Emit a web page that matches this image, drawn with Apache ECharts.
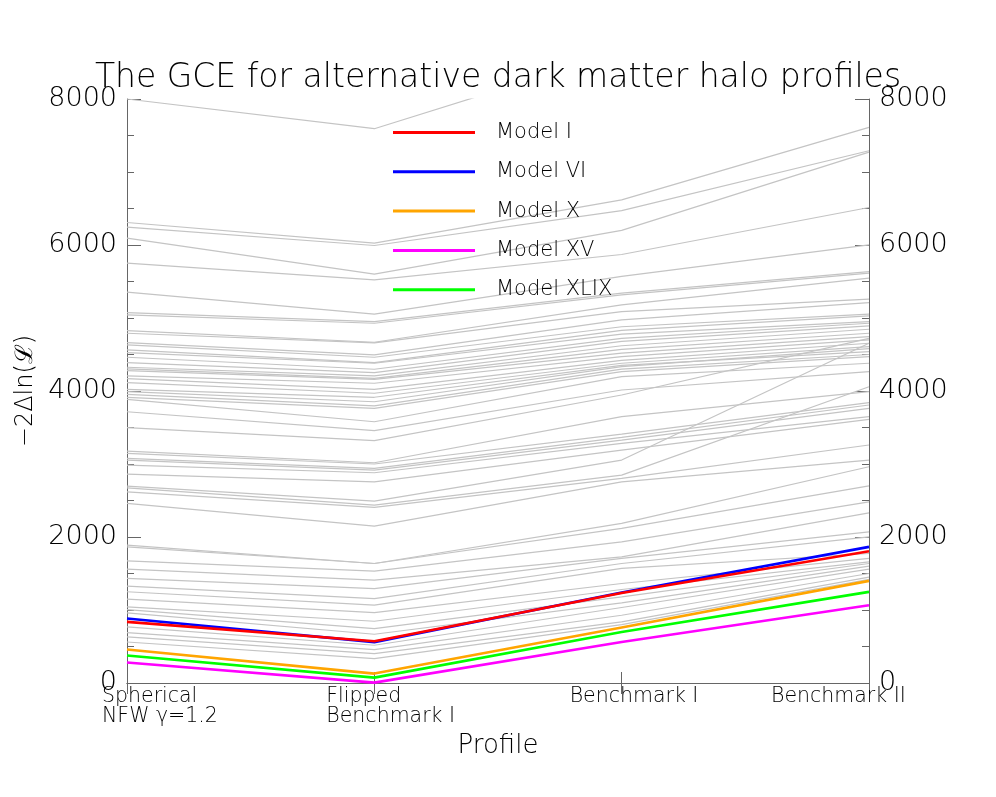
<!DOCTYPE html>
<html>
<head>
<meta charset="utf-8">
<script src="https://cdn.jsdelivr.net/npm/echarts@6/dist/echarts.min.js"></script>
<style>
    html, body { margin: 0; padding: 0; background: #fff; }
    #chart { width: 996px; height: 797px; }
</style>
</head>
<body>
<div id="chart"></div>
<script>
    // profiles on the x axis
    let categories = ['Spherical\nNFW γ=1.2', 'Flipped\nBenchmark I', 'Benchmark I', 'Benchmark II'];
    let yTicks = [0, 2000, 4000, 6000, 8000];

    // grey model lines, one value per profile (same row index = same model)
    let greySpherical = [8000, 6308, 6245, 6094, 5751, 5354, 5074, 5042, 4827, 4791, 4663, 4631, 4562, 4525, 4462, 4388, 4325, 4302, 4279, 4206, 4169, 4114, 4023,
        3991, 3955, 3914, 3886, 3716, 3497, 3177, 3146, 3077, 3054, 2985, 2862, 2697, 2674, 2619, 2460,
        1888, 1865, 1673, 1560, 1432, 1326, 1250, 1150, 1042, 1006, 960, 768, 691, 631, 562];
    let greyFlipped = [7593, 6025, 5993, 5600, 5522, 5052, 4950, 4928, 4668, 4660, 4494, 4462, 4388, 4380, 4298, 4251, 4206, 4174, 4160, 4106, 4023, 3969, 3914,
        3853, 3795, 3763, 3579, 3456, 3319, 3017, 3000, 2940, 2917, 2880, 2756, 2492, 2437, 2405, 2149,
        1637, 1637, 1532, 1408, 1294, 1157, 1066, 965, 846, 746, 668, 517, 458, 403, 334];
    let greyBenchI = [8650, 6619, 6470, 6200, 5870, 5570, 5340, 5317, 5180, 5088, 4974, 4880, 4830, 4780, 4720, 4680, 4620, 4570, 4520, 4470, 4420, 4380, 4350,
        4333, 4300, 4265, 4196, 4014, 3945, 3648, 3410, 3365, 3328, 3283, 3191, 3054, 2848, 2803, 2756,
        2186, 2117, 1934, 1728, 1706, 1637, 1569, 1363, 1281, 1179, 1097, 1034, 928, 837, 800];
    let greyBenchII = [9000, 7611, 7291, 7273, 6514, 6002, 5636, 5614, 5546, 5258, 5211, 5052, 5029, 4950, 4928, 4892, 4846, 4791, 4745, 4700, 4654, 4608, 4539,
        4580, 4500, 4470, 4380, 4265, 4720, 3991, 3840, 3808, 3763, 3648, 3612, 4654, 4059, 3260, 3054,
        2962, 2701, 2482, 2331, 2071, 2002, 1774, 1706, 1659, 1637, 1600, 1560, 1500, 1450, 1420];

    // highlighted models
    let modelI = [837, 572, 1234, 1806];
    let modelVI = [883, 560, 1240, 1865];
    let modelX = [458, 129, 760, 1399];
    let modelXV = [280, 5, 562, 1066];
    let modelXLIX = [376, 74, 699, 1248];

    let font = 'DejaVu Sans';
    let weight = 'lighter';
    let dom = document.getElementById('chart');
    let myChart = echarts.init(dom, null, {renderer: 'canvas'});

    let series = [];
    greySpherical.forEach((v, i) => {
        series.push({
            name: 'grey' + i,
            type: 'line',
            data: [v, greyFlipped[i], greyBenchI[i], greyBenchII[i]],
            showSymbol: false,
            silent: true,
            clip: true,
            lineStyle: {color: '#c4c4c4', width: 1.2},
            itemStyle: {color: '#c4c4c4'},
            z: 2
        });
    });
    let colored = [
        {name: 'Model VI', data: modelVI, color: '#0000ff'},
        {name: 'Model I', data: modelI, color: '#ff0000'},
        {name: 'Model X', data: modelX, color: '#ffa500'},
        {name: 'Model XLIX', data: modelXLIX, color: '#00ff00'},
        {name: 'Model XV', data: modelXV, color: '#ff00ff'},
    ];
    colored.forEach(c => {
        series.push({
            name: c.name,
            type: 'line',
            data: c.data,
            showSymbol: false,
            clip: true,
            lineStyle: {color: c.color, width: 2.6},
            itemStyle: {color: c.color},
            z: 3
        });
    });

    let yAxisBase = {
        type: 'value',
        min: 0,
        max: 8000,
        interval: 2000,
        axisLine: {show: true, lineStyle: {color: '#666', width: 1}},
        axisTick: {show: true, inside: true, length: 14, lineStyle: {color: '#666'}},
        minorTick: {show: true, splitNumber: 4, length: 7, lineStyle: {color: '#666'}},
        splitLine: {show: false},
        axisLabel: {
            fontFamily: font, fontWeight: weight, fontSize: 27, color: '#000', margin: 10,
            formatter: v => yTicks.indexOf(v) >= 0 ? String(v) : ''
        }
    };

    let option = {
        animation: false,
        backgroundColor: '#fff',
        title: {
            text: 'The GCE for alternative dark matter halo profiles',
            left: 'center',
            top: 57,
            textStyle: {fontFamily: font, fontSize: 33, fontWeight: weight, color: '#000'}
        },
        legend: {
            data: ['Model I', 'Model VI', 'Model X', 'Model XV', 'Model XLIX'],
            orient: 'vertical',
            left: 393,
            top: 122,
            padding: 0,
            icon: 'rect',
            itemWidth: 82,
            itemHeight: 3,
            itemGap: 18.3,
            selectedMode: false,
            textStyle: {fontFamily: font, fontWeight: weight, fontSize: 21, color: '#000', lineHeight: 20, padding: [0, 0, 0, 16]}
        },
        grid: {left: 127, right: 127, top: 99, bottom: 114, containLabel: false, outerBoundsMode: 'none'},
        xAxis: [
            {
                type: 'category',
                data: [
                    {value: categories[0], textStyle: {align: 'left', padding: [0, 0, 0, -25]}},
                    {value: categories[1], textStyle: {align: 'left', padding: [0, 0, 0, -48]}},
                    {value: categories[2], textStyle: {align: 'left', padding: [0, 0, 0, -52]}},
                    {value: categories[3], textStyle: {align: 'left', padding: [0, 0, 0, -98]}}
                ],
                boundaryGap: false,
                position: 'bottom',
                name: 'Profile',
                nameLocation: 'middle',
                nameGap: 50,
                nameTextStyle: {fontFamily: font, fontWeight: weight, fontSize: 26, color: '#000'},
                axisLine: {show: true, lineStyle: {color: '#666'}},
                axisTick: {show: true, inside: true, length: 11, alignWithLabel: true, lineStyle: {color: '#666'}},
                axisLabel: {fontFamily: font, fontWeight: weight, fontSize: 20.5, color: '#000', margin: 4, lineHeight: 20, interval: 0},
                splitLine: {show: false}
            },
            {
                type: 'category',
                data: categories,
                boundaryGap: false,
                position: 'top',
                axisLine: {show: true, lineStyle: {color: '#666'}},
                axisTick: {show: true, inside: true, length: 11, lineStyle: {color: '#666'}},
                axisLabel: {show: false},
                splitLine: {show: false}
            }
        ],
        yAxis: [
            Object.assign({}, yAxisBase, {
                position: 'left',
                name: '−2Δln(ℒ)',
                nameLocation: 'middle',
                nameGap: 63,
                nameRotate: 90,
                nameTextStyle: {fontFamily: font, fontWeight: weight, fontSize: 24, color: '#000'}
            }),
            Object.assign({}, yAxisBase, {position: 'right'})
        ],
        series: series
    };
    myChart.setOption(option, true);
</script>
</body>
</html>
